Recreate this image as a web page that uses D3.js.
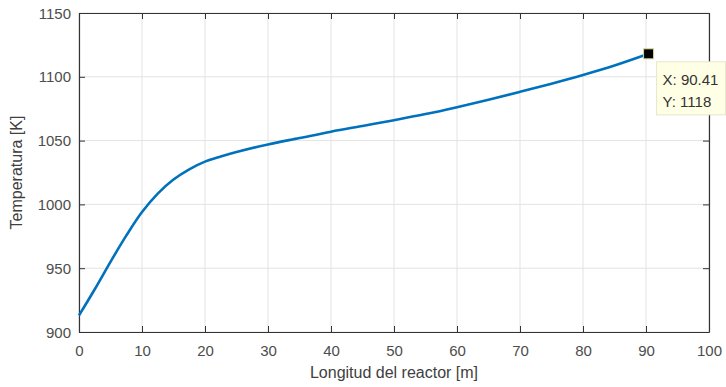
<!DOCTYPE html>
<html>
<head>
<meta charset="utf-8">
<script src="https://cdn.jsdelivr.net/npm/d3@7"></script>
<style>
  body { margin: 0; background: #fff; }
  svg { display: block; }
</style>
</head>
<body>
<svg id="chart" width="726" height="387"></svg>
<script>
// reactor length (m) and temperature (K)
const lengths = [0, 2.5, 5, 7.5, 10, 12.5, 15, 17.5, 20, 22.5, 25, 30, 35, 40, 45, 50, 55, 60, 65, 70, 75, 80, 85, 90.41];
const temps = [913, 933.5, 955, 975.5, 994, 1008.5, 1019.5, 1027.5, 1033.5, 1037.5, 1041, 1047, 1052, 1057, 1061.5, 1066, 1070.8, 1076.2, 1082, 1088.2, 1094.6, 1101.4, 1108.8, 1118];
const xTicks = [0, 10, 20, 30, 40, 50, 60, 70, 80, 90, 100];
const yTicks = [900, 950, 1000, 1050, 1100, 1150];
const tipX = 90.41, tipY = 1118;

const FONT = '"Liberation Sans", Arial, sans-serif';
const svg = d3.select('#chart');
const width = +svg.attr('width');
const height = +svg.attr('height');
const margin = { top: 13, bottom: 55, right: 17, left: 79 };
const innerWidth = width - margin.left - margin.right;
const innerHeight = height - margin.top - margin.bottom;

const data = lengths.map((x, i) => ({ x: x, t: temps[i] }));

const xScale = d3.scaleLinear().domain([0, 100]).range([0, innerWidth]);
const yScale = d3.scaleLinear().domain([900, 1150]).range([innerHeight, 0]);

const g = svg.append('g')
    .attr('transform', 'translate(' + margin.left + ',' + margin.top + ')');

// grid
g.append('g')
    .selectAll('line').data(xTicks).enter().append('line')
    .attr('x1', d => xScale(d)).attr('x2', d => xScale(d))
    .attr('y1', 0).attr('y2', innerHeight)
    .attr('stroke', '#e3e3e3');
g.append('g')
    .selectAll('line').data(yTicks).enter().append('line')
    .attr('y1', d => yScale(d)).attr('y2', d => yScale(d))
    .attr('x1', 0).attr('x2', innerWidth)
    .attr('stroke', '#e3e3e3');

// axes (ticks pointing inward)
const fmt = d3.format('d');
const xAxis = g.append('g')
    .attr('transform', 'translate(0,' + innerHeight + ')')
    .call(d3.axisBottom(xScale).tickValues(xTicks).tickFormat(fmt).tickSizeInner(-6).tickSizeOuter(0).tickPadding(12));
const xTop = g.append('g')
    .call(d3.axisTop(xScale).tickValues(xTicks).tickSizeInner(-6).tickSizeOuter(0));
const yAxis = g.append('g')
    .call(d3.axisLeft(yScale).tickValues(yTicks).tickFormat(fmt).tickSizeInner(-6).tickSizeOuter(0).tickPadding(8));
const yRight = g.append('g')
    .attr('transform', 'translate(' + innerWidth + ',0)')
    .call(d3.axisRight(yScale).tickValues(yTicks).tickSizeInner(-6).tickSizeOuter(0));

// top and right axes only carry ticks
xTop.selectAll('text').remove();
yRight.selectAll('text').remove();

// place labels with explicit baselines instead of em offsets
xAxis.selectAll('.tick text').attr('dy', null).attr('y', 24);
yAxis.selectAll('.tick text').attr('dy', null).attr('y', 5);

[xAxis, xTop, yAxis, yRight].forEach(a => {
    a.attr('font-family', FONT).attr('font-size', 15);
    a.selectAll('.domain').attr('stroke', '#333').attr('stroke-width', 1.2);
    a.selectAll('.tick line').attr('stroke', '#333');
    a.selectAll('text').attr('fill', '#4d4d4d');
});

// curve
const line = d3.line()
    .x(d => xScale(d.x))
    .y(d => yScale(d.t))
    .curve(d3.curveCatmullRom.alpha(0.5));
g.append('path')
    .datum(data)
    .attr('fill', 'none')
    .attr('stroke', '#0072BD')
    .attr('stroke-width', 2.6)
    .attr('d', line);

// data tip
g.append('rect')
    .attr('x', xScale(tipX) - 5).attr('y', yScale(tipY) - 5)
    .attr('width', 10).attr('height', 10)
    .attr('fill', '#000').attr('stroke', '#d8d4a0');
const tip = g.append('g')
    .attr('transform', 'translate(' + (xScale(tipX) + 8) + ',' + (yScale(tipY) + 8) + ')')
    .attr('font-family', FONT).attr('font-size', 15);
tip.append('rect')
    .attr('width', 69).attr('height', 53)
    .attr('fill', '#ffffe6').attr('stroke', '#e6e6c8');
tip.append('text').attr('x', 6).attr('y', 23)
    .attr('fill', '#333').text('X: ' + tipX);
tip.append('text').attr('x', 6).attr('y', 45)
    .attr('fill', '#333').text('Y: ' + tipY);

// labels
g.append('text')
    .attr('font-family', FONT).attr('font-size', 16).attr('fill', '#404040')
    .attr('text-anchor', 'middle')
    .attr('x', innerWidth / 2)
    .attr('y', innerHeight + 46)
    .text('Longitud del reactor [m]');
g.append('text')
    .attr('font-family', FONT).attr('font-size', 16).attr('fill', '#404040')
    .attr('text-anchor', 'middle')
    .attr('transform', 'translate(' + (-57) + ',' + (innerHeight / 2) + ') rotate(-90)')
    .text('Temperatura [K]');
</script>
</body>
</html>
